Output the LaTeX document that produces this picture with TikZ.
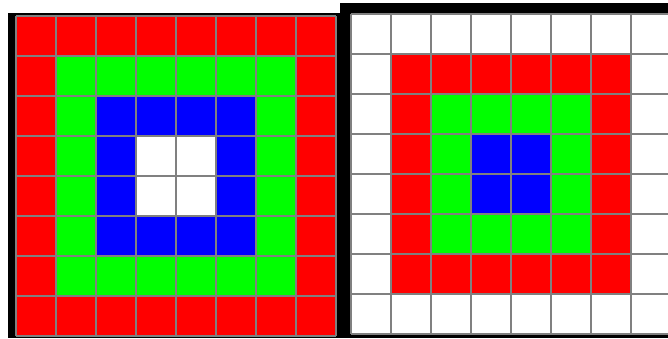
\documentclass[tikz,border=0pt]{standalone}
\usepackage{tikz}
\definecolor{gridgray}{RGB}{128,128,128}
% colour of ring #2 in palette #1 (0 = left, 1 = right)
\newcommand{\ringcol}[2]{%
  \ifcase#1
    \ifcase#2 \def\col{red}\or \def\col{green}\or \def\col{blue}\else \def\col{white}\fi
  \else
    \ifcase#2 \def\col{white}\or \def\col{red}\or \def\col{green}\else \def\col{blue}\fi
  \fi}

\begin{document}
\begin{tikzpicture}[
  x=1pt, y=-1pt,
  gridline/.style={draw=gridgray, line width=2pt},
  panelframe/.style={fill=black}
]
\useasboundingbox (0,0) rectangle (668,338);
\begin{scope}
\clip (0,0) rectangle (668,338);
% left panel: red outside, white centre
\fill[panelframe] (8,13) rectangle (340,338);
\foreach \i in {0,...,7}
  \foreach \j in {0,...,7} {
    \pgfmathtruncatemacro\ring{min(\i,\j,7-\i,7-\j)}
    \ringcol{0}{\ring}
    \fill[\col] (16+40*\i,16+40*\j) rectangle ++(40,40);
  }
\foreach \k in {0,...,8} {
  \draw[gridline] (16+40*\k,16) -- (16+40*\k,336);
  \draw[gridline] (16,16+40*\k) -- (336,16+40*\k);
}
% right panel: white outside, blue centre
\fill[panelframe] (340,3) rectangle (668,338);
\foreach \i in {0,...,7}
  \foreach \j in {0,...,7} {
    \pgfmathtruncatemacro\ring{min(\i,\j,7-\i,7-\j)}
    \ringcol{1}{\ring}
    \fill[\col] (351+40*\i,14+40*\j) rectangle ++(40,40);
  }
\foreach \k in {0,...,8} {
  \draw[gridline] (351+40*\k,14) -- (351+40*\k,334);
  \draw[gridline] (351,14+40*\k) -- (671,14+40*\k);
}
\end{scope}
\end{tikzpicture}
\end{document}
